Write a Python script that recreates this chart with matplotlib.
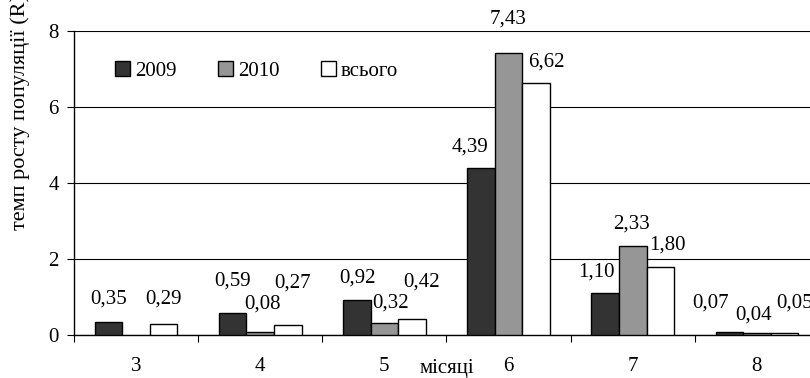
import matplotlib
matplotlib.use("Agg")
import matplotlib.pyplot as plt
import numpy as np

plt.rcParams['font.family'] = ['Liberation Serif', 'DejaVu Serif']

months = ['3', '4', '5', '6', '7', '8']
series = ['2009', '2010', 'всього']
vals_2009 = [0.35, 0.59, 0.92, 4.39, 1.10, 0.07]
vals_2010 = [None, 0.08, 0.32, 7.43, 2.33, 0.04]
vals_all = [0.29, 0.27, 0.42, 6.62, 1.80, 0.05]

colors = ['#333333', '#969696', '#ffffff']
# label nudges in pixels (dx, dy above bar top), per series per month
nudges = [
    [(0, 23), (0, 32), (1, 22), (-11, 21), (-9, 21), (-19, 29)],
    [(0, 0), (2, 28), (6, 20), (-1, 34), (-1, 22), (-3, 18)],
    [(0, 25), (5, 42), (10, 37), (10, 21), (7, 22), (10, 30)],
]

fig = plt.figure(figsize=(8.1, 3.78), dpi=100)
ax = fig.add_axes([74 / 810, 43 / 378, 745 / 810, 304 / 378])

x = np.arange(len(months))
w = 0.222
for i, (name, vals) in enumerate(zip(series, [vals_2009, vals_2010, vals_all])):
    pos = x + (i - 1) * w
    h = [np.nan if v is None else v for v in vals]
    ax.bar(pos, h, w, color=colors[i], edgecolor='black', linewidth=1.0,
           label=name, zorder=3)
    for j, v in enumerate(vals):
        if v is None:
            continue
        dx, dy = nudges[i][j]
        ax.annotate(f'{v:.2f}'.replace('.', ','), (pos[j], v),
                    xytext=(dx, dy), textcoords='offset pixels',
                    ha='center', va='center', fontsize=15)

ax.set_xlim(-0.5, len(months) - 0.5)
ax.set_ylim(0, 8)
ax.set_yticks([0, 2, 4, 6, 8])
ax.yaxis.grid(True, color='black', linewidth=0.8)
ax.set_axisbelow(True)
ax.set_xticks(x)
ax.set_xticklabels(months)
ax.set_xticks(np.arange(len(months) + 1) - 0.5, minor=True)
ax.tick_params(axis='x', which='major', length=0, pad=16, labelsize=15)
ax.tick_params(axis='x', which='minor', length=5, width=0.8, direction='out')
ax.tick_params(axis='y', length=5, width=0.8, pad=6, labelsize=15)
for s in ['top', 'right']:
    ax.spines[s].set_visible(False)
ax.spines['left'].set_linewidth(1.0)
ax.spines['bottom'].set_linewidth(1.0)

ax.text(447 / 810, 9 / 378, 'місяці', transform=fig.transFigure,
        ha='center', va='center', fontsize=15)
fig.text(20 / 810, 148 / 378, 'темп росту популяції (R)', rotation=90,
         ha='center', va='bottom', fontsize=16)

ax.legend(loc='upper left', bbox_to_anchor=(0.030, 0.963), ncol=3, frameon=False,
          fontsize=15, handlelength=0.7, handleheight=0.7, handletextpad=0.25,
          columnspacing=2.0)

fig.savefig('out.png', dpi=100)
